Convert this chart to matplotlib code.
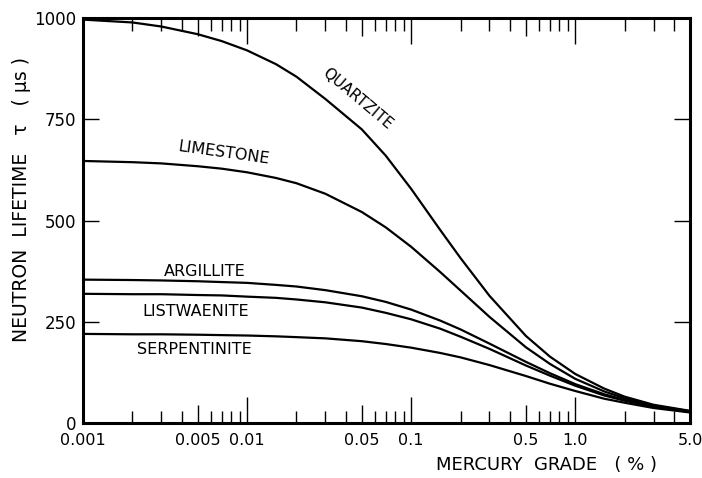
import numpy as np
import matplotlib
matplotlib.use("Agg")
import matplotlib.pyplot as plt
from matplotlib.ticker import FixedLocator, NullFormatter

# mercury grade (%) and neutron lifetime (us)
grade = [0.001, 0.002, 0.003, 0.005, 0.007, 0.01, 0.015, 0.02, 0.03, 0.05, 0.07,
         0.1, 0.15, 0.2, 0.3, 0.5, 0.7, 1.0, 1.5, 2.0, 3.0, 5.0]

quartzite = [996, 989, 979, 960, 943, 920, 886, 855, 800, 725, 660,
             578, 477, 407, 314, 215, 164, 121, 85, 65, 45, 30]
limestone = [647, 644, 641, 634, 628, 619, 605, 592, 566, 521, 483,
             435, 373, 327, 262, 187, 146, 109, 78, 61, 43, 29]
argillite = [354, 353, 352, 350, 348, 346, 341, 337, 328, 313, 299,
             280, 253, 231, 196, 151, 123, 96, 71, 57, 41, 28]
listwaenite = [319, 318, 318, 316, 315, 312, 309, 305, 298, 285, 272,
               256, 233, 213, 183, 142, 117, 92, 68, 55, 40, 27]
serpentinite = [220, 219, 219, 218, 217, 216, 214, 212, 209, 202, 195,
                186, 173, 162, 143, 116, 97, 79, 60, 50, 37, 26]

xticks = [0.001, 0.005, 0.01, 0.05, 0.1, 0.5, 1.0, 5.0]
xticklabels = ["0.001", "0.005", "0.01", "0.05", "0.1", "0.5", "1.0", "5.0"]
yticks = [0, 250, 500, 750, 1000]


plt.rcParams['font.family'] = ['DejaVu Sans']

fig = plt.figure(figsize=(7.02, 4.78), dpi=100)
ax = fig.add_axes([83 / 702, 55 / 478, 607 / 702, 405 / 478])

for series in [quartzite, limestone, argillite, listwaenite, serpentinite]:
	ax.plot(grade, series, color="black", lw=1.6, solid_capstyle="butt")

ax.set_xscale("log")
ax.set_xlim(0.001, 5.0)
ax.set_ylim(0, 1000)

ax.xaxis.set_major_locator(FixedLocator(xticks))
ax.set_xticklabels(xticklabels, fontsize=11.5)
minor = []
for dec in [0.001, 0.01, 0.1, 1.0]:
	for m in [2, 3, 4, 6, 7, 8, 9]:
		if dec * m < 5.0:
			minor.append(dec * m)
ax.xaxis.set_minor_locator(FixedLocator(minor))
ax.xaxis.set_minor_formatter(NullFormatter())

ax.set_yticks(yticks)
ax.set_yticklabels([str(v) for v in yticks], fontsize=12)

ax.tick_params(axis="both", which="both", direction="in", top=True, right=True,
               width=1.0, color="black")
ax.tick_params(axis="x", which="major", pad=7)
ax.tick_params(axis="x", which="minor", length=9)
ax.tick_params(axis="y", which="major", length=11.5, pad=5)

# decades long, fives medium
for t, v in zip(ax.xaxis.get_major_ticks(), xticks):
	if str(v).lstrip("0.").startswith("1"):
		size = 19
	else:
		size = 13
	t.tick1line.set_markersize(size)
	t.tick2line.set_markersize(size)

for s in ax.spines.values():
	s.set_linewidth(2.2)

ax.text(357, 478 - 99, "QUARTZITE", fontsize=11, rotation=-40, ha="center",
        va="center", transform=None)
ax.text(224, 478 - 153, "LIMESTONE", fontsize=11.5, rotation=-8, ha="center",
        va="center", transform=None)
ax.text(205, 478 - 272, "ARGILLITE", fontsize=11.5, ha="center", va="center",
        transform=None)
ax.text(196, 478 - 312, "LISTWAENITE", fontsize=11.5, ha="center", va="center",
        transform=None)
ax.text(194, 478 - 350, "SERPENTINITE", fontsize=11.5, ha="center", va="center",
        transform=None)

fig.text(546 / 702, 1 - 465 / 478, "MERCURY  GRADE   ( % )", fontsize=13,
         ha="center", va="center")
fig.text(22 / 702, 1 - 200 / 478, "NEUTRON  LIFETIME   \u03c4   ( \u03bcs )", fontsize=13.5,
         rotation=90, ha="center", va="center")

fig.savefig("out.png", dpi=100)
